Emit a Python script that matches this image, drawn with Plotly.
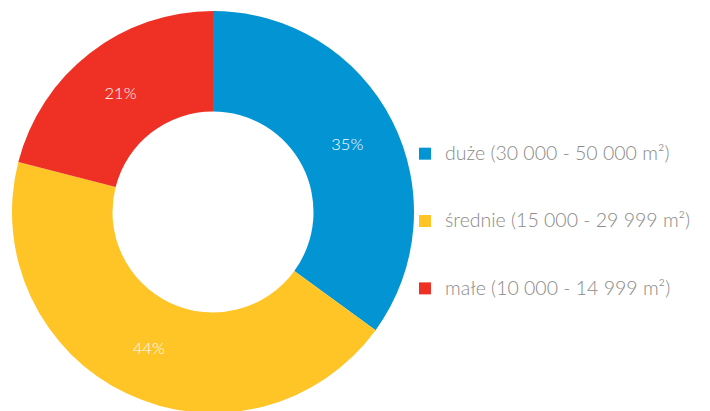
import plotly.graph_objects as go

categories = ["duże (30 000 - 50 000 m²)", "średnie (15 000 - 29 999 m²)", "małe (10 000 - 14 999 m²)"]
values = [35, 44, 21]
colors = ["#0394D4", "#FFC425", "#EF3125"]

W, H = 760, 411
T, B = 3, 6
cx, r = 205, 201

NB = "\u00a0"
legend_labels = [f"{NB}<br><span style='font-size:19.5px'>{c}{NB * 2}</span><br>{NB}" for c in categories]

fig = go.Figure(go.Pie(
    labels=legend_labels,
    values=values,
    hole=0.5,
    sort=False,
    direction="clockwise",
    rotation=0,
    marker=dict(colors=colors, line=dict(width=0)),
    texttemplate="%{value}%",
    textposition="inside",
    insidetextorientation="horizontal",
    textfont=dict(family="Lato", size=16.5, color="white", weight=300),
    domain=dict(x=[(cx - r) / W, (cx + r) / W], y=[0, 1]),
    hoverinfo="skip",
))

fig.update_layout(
    width=W, height=H,
    margin=dict(l=0, r=0, t=T, b=B),
    paper_bgcolor="white",
    plot_bgcolor="white",
    showlegend=True,
    legend=dict(
        x=397 / W, xanchor="left",
        y=(H - 213.5 - B) / (H - T - B), yanchor="middle",
        font=dict(family="Lato", size=16.5, color="#8a8a8a", weight=300),
        bgcolor="rgba(0,0,0,0)",
        borderwidth=0,
        tracegroupgap=0,
    ),
)

fig.write_html("out.html")
